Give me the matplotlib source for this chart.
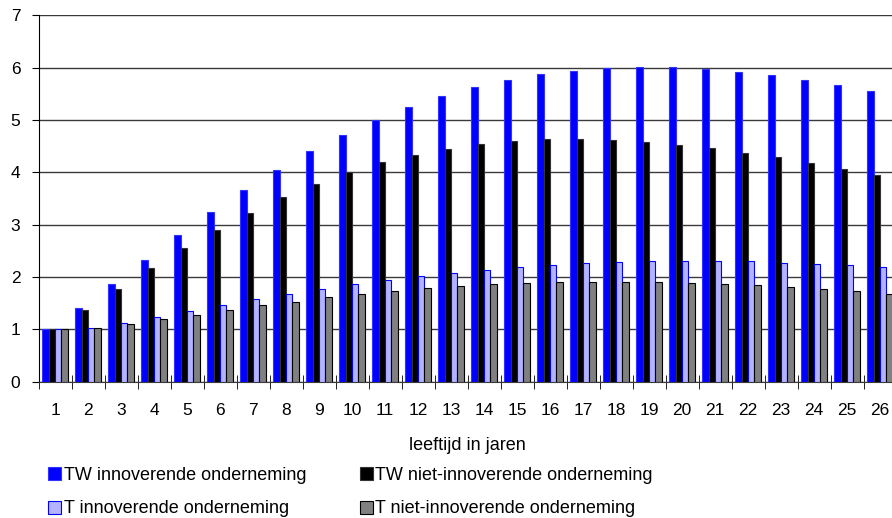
import matplotlib
matplotlib.use("Agg")
import matplotlib.pyplot as plt
import numpy as np

plt.rcParams['font.family'] = ['Liberation Sans', 'DejaVu Sans']

categories = [str(i) for i in range(1, 27)]
tw_innov = [1.00, 1.41, 1.87, 2.33, 2.80, 3.24, 3.66, 4.05, 4.41, 4.72, 5.00, 5.25, 5.45,
            5.63, 5.76, 5.87, 5.94, 5.99, 6.01, 6.01, 5.97, 5.92, 5.86, 5.76, 5.66, 5.56]
tw_niet = [1.00, 1.37, 1.77, 2.17, 2.55, 2.90, 3.23, 3.53, 3.78, 4.00, 4.20, 4.34, 4.45,
           4.55, 4.60, 4.63, 4.63, 4.62, 4.58, 4.53, 4.46, 4.37, 4.29, 4.18, 4.07, 3.95]
t_innov = [1.00, 1.03, 1.13, 1.24, 1.35, 1.46, 1.58, 1.68, 1.77, 1.86, 1.95, 2.02, 2.08,
           2.14, 2.19, 2.23, 2.26, 2.29, 2.30, 2.31, 2.30, 2.30, 2.27, 2.24, 2.22, 2.19]
t_niet = [1.00, 1.02, 1.10, 1.20, 1.28, 1.37, 1.46, 1.53, 1.62, 1.68, 1.74, 1.79, 1.83,
          1.86, 1.88, 1.90, 1.91, 1.91, 1.91, 1.89, 1.87, 1.84, 1.81, 1.77, 1.74, 1.68]
labels = ["TW innoverende onderneming", "TW niet-innoverende onderneming",
          "T innoverende onderneming", "T niet-innoverende onderneming"]
xlabel = "leeftijd in jaren"

FS = 12.5
LFS = 13
fig = plt.figure(figsize=(8.92, 5.18), dpi=100)
W, H = 892, 518
left_px, right_px, top_px, bot_px = 38.5, 896.5, 15.3, 381.7
ax = fig.add_axes([left_px / W, (H - bot_px) / H, (right_px - left_px) / W, (bot_px - top_px) / H])

x = np.arange(1, 27)
bw = 0.195
series = [tw_innov, tw_niet, t_innov, t_niet]
faces = ['#0000ff', '#000000', '#b3b3ff', '#808080']
edges = ['#3333ff', '#333333', '#0000ff', '#000000']
handles = []
for k, (vals, fc, ec) in enumerate(zip(series, faces, edges)):
    b = ax.bar(x + (k - 1.5) * bw, vals, width=bw, color=fc, edgecolor=ec, linewidth=0.8,
               label=labels[k], zorder=3)
    handles.append(b)

ax.set_xlim(0.5, 26.5)
ax.set_ylim(0, 7)
ax.set_yticks(range(0, 8))
ax.yaxis.grid(True, color='#3a3a3a', linewidth=1.0, zorder=0)
ax.set_axisbelow(True)
for s in ['top', 'right']:
    ax.spines[s].set_visible(False)
ax.spines['left'].set_color('black')
ax.spines['bottom'].set_color('#3a3a3a')
ax.set_xticks(x)
ax.set_xticklabels(categories)
ax.set_xticks(np.arange(0.5, 27, 1), minor=True)
ax.tick_params(axis='x', which='major', length=0, pad=15, labelsize=FS)
ax.tick_params(axis='x', which='minor', length=10, direction='inout', color='black')
ax.tick_params(axis='y', length=5, direction='out', labelsize=FS, pad=8)
ax.set_xlabel(xlabel, fontsize=LFS, labelpad=14)

order = [0, 2, 1, 3]
leg = fig.legend([handles[i] for i in order], [labels[i] for i in order], ncol=2,
                 loc='upper left', bbox_to_anchor=(41 / W, 1 - 460 / H), frameon=False,
                 fontsize=LFS, handlelength=0.72, handleheight=0.72, handletextpad=0.15,
                 columnspacing=2.95, labelspacing=0.9, borderaxespad=0)

fig.savefig("out.png", dpi=100)
